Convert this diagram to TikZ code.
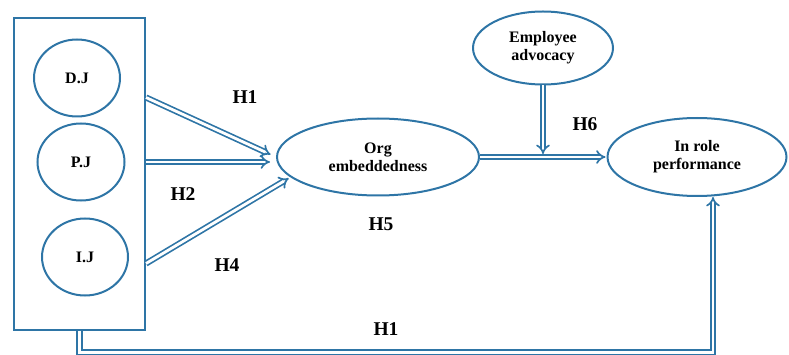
\documentclass[tikz,border=0pt]{standalone}
\usepackage{fontspec}
\setmainfont{Liberation Serif}
\usetikzlibrary{arrows.meta,shapes.geometric,positioning}
\definecolor{linkblue}{RGB}{46,117,166}

\begin{document}
\begin{tikzpicture}[x=1pt, y=-1pt, font=\bfseries]
        \tikzstyle{var}=[ellipse, draw=linkblue, line width=2pt, inner sep=0pt, align=center, text=black, font=\fontsize{16}{18}\selectfont\bfseries]
        \tikzstyle{link}=[draw=linkblue, line width=1.7pt, double=white, double distance=2.8pt, -{Implies}]
        \tikzstyle{hyp}=[text=black, font=\fontsize{19.5}{22}\selectfont\bfseries]
        \useasboundingbox (0,0) rectangle (789,355);

        % justice dimensions
        \node[draw=linkblue, line width=2pt, minimum width=131pt, minimum height=311pt] (B) at (79.5,174) {};
        \node[var, minimum width=86pt, minimum height=77pt]    (D) at (77,78)   {D.J};
        \node[var, minimum width=87pt, minimum height=77pt]    (P) at (81,162)  {P.J};
        \node[var, minimum width=86pt, minimum height=77pt]    (I) at (85,257)  {I.J};

        \node[var, minimum width=202pt, minimum height=77pt]   (O) at (378,157) {Org\\embeddedness};
        \node[var, minimum width=140pt, minimum height=73pt]   (E) at (543,48)  {Employee\\advocacy};
        \node[var, minimum width=179pt, minimum height=78pt]   (R) at (697,157) {In role\\performance};

        \draw[link, shorten >=6pt] ([yshift=-80pt]B.north east)  -- (O.west);
        \draw[link, shorten >=6pt] (B.east |- P)                 -- ([yshift=-5pt]O.west);
        \draw[link, shorten >=2pt] ([yshift=-246pt]B.north east) -- (O.193);
        \draw[link, shorten >=1pt] (O.east) -- (R.west);
        \draw[link, shorten >=3pt] (E.south) -- (E.south |- O.east);

        \draw[link] (B.south) -- ++(0,22) -| ([xshift=16pt]R.south);

        \node[hyp] (h1) at (245,97)  {H1};
        \node[hyp] (h2) at (183,194) {H2};
        \node[hyp] (h4) at (227,265) {H4};
        \node[hyp] (h5) at (381,224) {H5};
        \node[hyp] (h6) at (585,124) {H6};
        \node[hyp] (h7) at (386,329) {H1};
    \end{tikzpicture}
\end{document}
